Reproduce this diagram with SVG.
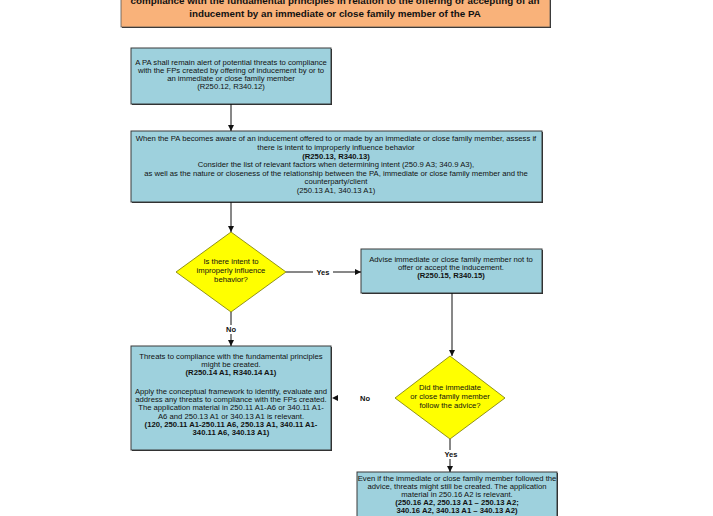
<svg xmlns="http://www.w3.org/2000/svg" width="713" height="516" viewBox="0 0 713 516">
<defs>
<style>
.box{fill:#9ed1dd;stroke:#3a3a3a;stroke-width:1}
.shadow{fill:#2a2a2a}
.dia{fill:#ffff00;stroke:#777700;stroke-width:0.8}
.t{font-family:"Liberation Sans",Arial,sans-serif;font-size:7.7px;fill:#111;text-anchor:middle}
.b{font-weight:bold}
.h{font-family:"Liberation Sans",Arial,sans-serif;font-size:9.8px;font-weight:bold;fill:#111;text-anchor:middle}
.lbl{font-family:"Liberation Sans",Arial,sans-serif;font-size:7.5px;font-weight:bold;fill:#111;text-anchor:middle}
.c{fill:none;stroke:#111;stroke-width:1}
</style>
<marker id="arr" viewBox="0 0 10 10" refX="10" refY="5" markerWidth="6" markerHeight="6" orient="auto" markerUnits="userSpaceOnUse">
<path d="M0,0 L10,5 L0,10 z" fill="#111"/>
</marker>
</defs>
<rect width="713" height="516" fill="#ffffff"/>

<g id="top">
<rect x="122" y="-10" width="429" height="38" fill="#2a2a2a"/>
<rect x="121" y="-10" width="429" height="37" fill="#f9b27a" stroke="#555" stroke-width="0.8"/>
<text class="h" x="335" y="4">compliance with the fundamental principles in relation to the offering or accepting of an</text>
<text class="h" x="335" y="17">inducement by an immediate or close family member of the PA</text>
</g>

<g id="box1">
<rect x="132" y="49" width="200" height="56" class="shadow"/>
<rect x="131" y="48" width="200" height="56" class="box"/>
<text class="t" x="231" y="65">A PA shall remain alert of potential threats to compliance</text>
<text class="t" x="231" y="73">with the FPs created by offering of inducement by or to</text>
<text class="t" x="231" y="81">an immediate or close family member</text>
<text class="t" x="231" y="89">(R250.12, R340.12)</text>
</g>

<g id="box2">
<rect x="132" y="132" width="411" height="71" class="shadow"/>
<rect x="131" y="131" width="411" height="71" class="box"/>
<text class="t" x="336" y="141">When the PA becomes aware of an inducement offered to or made by an immediate or close family member, assess if</text>
<text class="t" x="336" y="150">there is intent to improperly influence behavior</text>
<text class="t b" x="336" y="159">(R250.13, R340.13)</text>
<text class="t" x="336" y="167">Consider the list of relevant factors when determining intent (250.9 A3; 340.9 A3),</text>
<text class="t" x="336" y="176">as well as the nature or closeness of the relationship between the PA, immediate or close family member and the</text>
<text class="t" x="336" y="184">counterparty/client</text>
<text class="t" x="336" y="193">(250.13 A1, 340.13 A1)</text>
</g>

<g id="dec1">
<polygon points="231,232 286,272 231,312 176,272" class="dia"/>
<text class="t" x="231" y="264">Is there intent to</text>
<text class="t" x="231" y="273">improperly influence</text>
<text class="t" x="231" y="282">behavior?</text>
</g>

<g id="box3">
<rect x="362" y="250" width="181" height="44" class="shadow"/>
<rect x="361" y="249" width="181" height="44" class="box"/>
<text class="t" x="451" y="262">Advise immediate or close family member not to</text>
<text class="t" x="451" y="270">offer or accept the inducement.</text>
<text class="t b" x="451" y="278">(R250.15, R340.15)</text>
</g>

<g id="dec2">
<polygon points="450,356 505,398 450,439 395,398" class="dia"/>
<text class="t" x="450" y="390">Did the immediate</text>
<text class="t" x="450" y="399">or close family member</text>
<text class="t" x="450" y="408">follow the advice?</text>
</g>

<g id="box4">
<rect x="132" y="347" width="200" height="104" class="shadow"/>
<rect x="131" y="346" width="200" height="104" class="box"/>
<text class="t" x="231" y="359">Threats to compliance with the fundamental principles</text>
<text class="t" x="231" y="367">might be created.</text>
<text class="t b" x="231" y="375">(R250.14 A1, R340.14 A1)</text>
<text class="t" x="231" y="394">Apply the conceptual framework to identify, evaluate and</text>
<text class="t" x="231" y="402">address any threats to compliance with the FPs created.</text>
<text class="t" x="231" y="410">The application material in 250.11 A1-A6 or 340.11 A1-</text>
<text class="t" x="231" y="419">A6 and 250.13 A1 or 340.13 A1 is relevant.</text>
<text class="t b" x="231" y="427">(120, 250.11 A1-250.11 A6, 250.13 A1, 340.11 A1-</text>
<text class="t b" x="231" y="435">340.11 A6, 340.13 A1)</text>
</g>

<g id="box5">
<rect x="358" y="473" width="200" height="60" class="shadow"/>
<rect x="357" y="472" width="200" height="60" class="box"/>
<text class="t" x="457" y="481">Even if the immediate or close family member followed the</text>
<text class="t" x="457" y="489">advice, threats might still be created. The application</text>
<text class="t" x="457" y="497">material in 250.16 A2 is relevant.</text>
<text class="t b" x="457" y="505">(250.16 A2, 250.13 A1 – 250.13 A2;</text>
<text class="t b" x="457" y="513">340.16 A2, 340.13 A1 – 340.13 A2)</text>
</g>

<g id="connectors">
<line class="c" x1="231" y1="104" x2="231" y2="131" marker-end="url(#arr)"/>
<line class="c" x1="231" y1="202" x2="231" y2="232" marker-end="url(#arr)"/>
<line class="c" x1="286" y1="272" x2="361" y2="272" marker-end="url(#arr)"/>
<rect x="313" y="267" width="20" height="9" fill="#fff"/>
<text class="lbl" x="323" y="274.5">Yes</text>
<line class="c" x1="231" y1="312" x2="231" y2="346" marker-end="url(#arr)"/>
<rect x="224" y="325" width="14" height="9" fill="#fff"/>
<text class="lbl" x="231" y="331.5">No</text>
<line class="c" x1="452" y1="293" x2="452" y2="356" marker-end="url(#arr)"/>
<line class="c" x1="395" y1="398" x2="332" y2="398" stroke-opacity="0" marker-end="url(#arr)"/>
<text class="lbl" x="365" y="400.5">No</text>
<line class="c" x1="450" y1="439" x2="450" y2="472" marker-end="url(#arr)"/>
<rect x="442" y="450" width="18" height="9" fill="#fff"/>
<text class="lbl" x="451" y="456.5">Yes</text>
</g>
</svg>
